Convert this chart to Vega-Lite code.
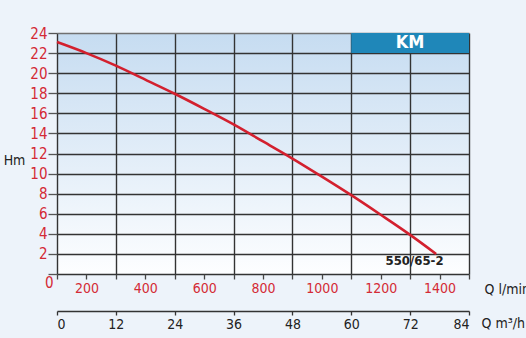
{
  "$schema": "https://vega.github.io/schema/vega-lite/v6.json",
  "width": 412,
  "height": 241,
  "autosize": "none",
  "padding": {"left": 57, "top": 33, "right": 57, "bottom": 64},
  "background": "#edf3fa",
  "config": {
    "view": {
      "stroke": null,
      "fill": {"gradient": "linear", "x1": 0, "y1": 0, "x2": 0, "y2": 1,
        "stops": [{"offset": 0, "color": "#c6dcf1"}, {"offset": 1, "color": "#fdfeff"}]}
    },
    "font": "DejaVu Sans Condensed, Liberation Sans Narrow, sans-serif"
  },
  "datasets": {
    "curve": [
      {"q": 0, "h": 23.1}, {"q": 6, "h": 22.0}, {"q": 12, "h": 20.75}, {"q": 18, "h": 19.35},
      {"q": 24, "h": 17.95}, {"q": 30, "h": 16.45}, {"q": 36, "h": 14.9}, {"q": 42, "h": 13.2},
      {"q": 48, "h": 11.5}, {"q": 54, "h": 9.7}, {"q": 60, "h": 7.85}, {"q": 66, "h": 5.9},
      {"q": 72, "h": 3.9}, {"q": 77.3, "h": 2.0}
    ],
    "header": [{"x0": 60, "x1": 84, "y0": 22, "y1": 24, "xm": 72, "ym": 23, "label": "KM"}],
    "model": [{"x": 72.9, "y": 1.32, "label": "550/65-2"}]
  },
  "layer": [
    {
      "data": {"name": "header"},
      "mark": {"type": "rect", "color": "#1f87b9"},
      "encoding": {
        "x": {"field": "x0", "type": "quantitative", "scale": {"domain": [0, 84], "nice": false}, "axis": null},
        "x2": {"field": "x1"},
        "y": {"field": "y0", "type": "quantitative", "scale": {"domain": [0, 24], "nice": false}, "axis": null},
        "y2": {"field": "y1"}
      }
    },
    {
      "data": {"name": "curve"},
      "mark": {"type": "line", "color": "#d3202e", "strokeWidth": 2.6, "interpolate": "monotone"},
      "encoding": {
        "x": {"field": "q", "type": "quantitative", "scale": {"domain": [0, 84], "nice": false},
          "axis": {
            "orient": "bottom",
            "values": [0, 6, 12, 18, 24, 30, 36, 42, 48, 54, 60, 66, 72, 78, 84],
            "labelExpr": "datum.value % 12 == 6 ? format((datum.value + 6) / 12 * 200, 'd') : ''",
            "labelColor": "#d42a35", "labelFontSize": 14, "labelPadding": 2,
            "labelOverlap": false, "labelFlush": false,
            "tickSize": 5, "tickColor": "#444", "tickWidth": 1.3,
            "domain": false,
            "grid": true, "gridColor": "#333", "gridWidth": 1.4,
            "gridOpacity": {"condition": {"test": "datum.value % 12 != 0", "value": 0}, "value": 1},
            "title": "Q l/min", "titleX": 427, "titleY": 15, "titleAlign": "left", "titleBaseline": "middle",
            "titleFontWeight": "normal", "titleFontSize": 14, "titleColor": "#222"
          }
        },
        "y": {"field": "h", "type": "quantitative", "scale": {"domain": [0, 24], "nice": false},
          "axis": {
            "orient": "left",
            "values": [0, 2, 4, 6, 8, 10, 12, 14, 16, 18, 20, 22, 24],
            "labelColor": "#d42a35", "labelFontSize": 15, "labelFlush": false, "labelOverlap": false,
            "labelPadding": {"condition": {"test": "datum.value == 0", "value": -5}, "value": 1},
            "labelOffset": {"condition": {"test": "datum.value == 0", "value": 8}, "value": 0},
            "tickSize": 9, "tickColor": "#555", "tickWidth": 1.3,
            "domain": false,
            "grid": true, "gridWidth": 1.4,
            "gridColor": {"condition": {"test": "datum.value == 24", "value": "#707070"}, "value": "#333"},
            "title": "Hm", "titleAngle": 0, "titleX": -43, "titleY": 127, "titleAlign": "center",
            "titleBaseline": "middle", "titleFontWeight": "normal", "titleFontSize": 14, "titleColor": "#222"
          }
        }
      }
    },
    {
      "data": {"name": "header"},
      "mark": {"type": "text", "color": "#ffffff", "fontSize": 18, "fontWeight": "bold", "align": "center", "baseline": "middle"},
      "encoding": {
        "x": {"field": "xm", "type": "quantitative", "scale": {"domain": [0, 84], "nice": false},
          "axis": {
            "orient": "bottom",
            "values": [0, 12, 24, 36, 48, 60, 72, 84],
            "offset": 37,
            "labelColor": "#222", "labelFontSize": 14, "labelPadding": 2, "labelOverlap": false,
            "tickSize": 4, "tickColor": "#333", "tickWidth": 1.3,
            "domain": true, "domainColor": "#333", "domainWidth": 1.3,
            "grid": false,
            "title": "Q m³/h", "titleX": 424, "titleY": 12, "titleAlign": "left", "titleBaseline": "middle",
            "titleFontWeight": "normal", "titleFontSize": 14, "titleColor": "#222"
          }
        },
        "y": {"field": "ym", "type": "quantitative", "scale": {"domain": [0, 24], "nice": false}, "axis": null},
        "text": {"field": "label"}
      }
    },
    {
      "data": {"name": "model"},
      "mark": {"type": "text", "color": "#222", "fontSize": 13, "fontWeight": "bold", "align": "center", "baseline": "middle"},
      "encoding": {
        "x": {"field": "x", "type": "quantitative", "scale": {"domain": [0, 84], "nice": false}, "axis": null},
        "y": {"field": "y", "type": "quantitative", "scale": {"domain": [0, 24], "nice": false}, "axis": null},
        "text": {"field": "label"}
      }
    }
  ],
  "resolve": {"axis": {"x": "independent", "y": "independent"}}
}
